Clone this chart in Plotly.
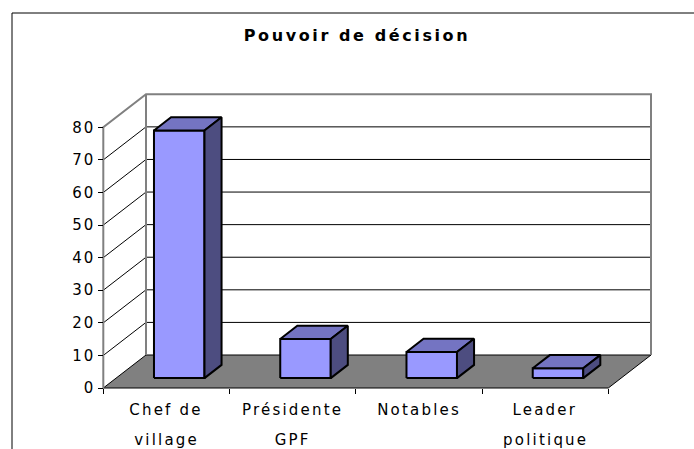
import plotly.graph_objects as go

# ---------------- data ----------------
categories = ["Chef de\nvillage", "Présidente\nGPF", "Notables", "Leader\npolitique"]
values = [76, 12, 8, 3]
y_tick_values = [0, 10, 20, 30, 40, 50, 60, 70, 80]
y_tick_labels = [str(v) for v in y_tick_values]
title_text = "Pouvoir de décision"

# ---------------- geometry / style constants ----------------
W, H = 694, 449
ORIGIN_X, ORIGIN_Y = 103.3, 388.0      # pixel position of (category 0, value 0) on the front floor edge
CAT_PX, UNIT_PX = 126.25, 3.259        # pixels per category, pixels per value unit
DEPTH_PX_X, DEPTH_PX_Y = 42.7, 33.0    # oblique depth offset of the floor (pixels)
dxu = DEPTH_PX_X / CAT_PX
dyu = DEPTH_PX_Y / UNIT_PX
BAR_W = 0.4
Z0, Z1 = 0.3, 0.7
FONT = "DejaVu Sans"
FRONT, TOP, SIDE = "#9999FF", "#7474C2", "#4D4D80"
EDGE_GRAY = "#808080"
CLEAR = "rgba(0,0,0,0)"

n = len(categories)
ytop = y_tick_values[-1]
x_range = [-ORIGIN_X / CAT_PX, (W - ORIGIN_X) / CAT_PX]
y_range = [-(H - ORIGIN_Y) / UNIT_PX, ORIGIN_Y / UNIT_PX]


def P(x, y, z=0.0):
    """oblique projection: z = 0 front of the floor, z = 1 back wall"""
    return (x + z * dxu, y + z * dyu)


fig = go.Figure()


def add_poly(pts, fill, color, width):
    xs = [p[0] for p in pts] + [pts[0][0]]
    ys = [p[1] for p in pts] + [pts[0][1]]
    fig.add_trace(go.Scatter(x=xs, y=ys, mode="lines", fill="toself", fillcolor=fill,
                             line=dict(color=color, width=width),
                             hoverinfo="skip", showlegend=False))


def add_path(segments, color, width):
    xs, ys = [], []
    for seg in segments:
        for p in seg:
            xs.append(p[0])
            ys.append(p[1])
        xs.append(None)
        ys.append(None)
    fig.add_trace(go.Scatter(x=xs, y=ys, mode="lines", line=dict(color=color, width=width),
                             hoverinfo="skip", showlegend=False))


# walls
add_poly([P(0, 0, 1), P(n, 0, 1), P(n, ytop, 1), P(0, ytop, 1)], "white", CLEAR, 0)
add_poly([P(0, 0, 0), P(0, 0, 1), P(0, ytop, 1), P(0, ytop, 0)], "white", CLEAR, 0)
# gridlines on side and back walls
add_path([[P(0, v, 0), P(0, v, 1), P(n, v, 1)] for v in y_tick_values[1:-1]], "black", 1)
# floor
add_poly([P(0, 0, 0), P(n, 0, 0), P(n, 0, 1), P(0, 0, 1)], "#808080", "black", 1)
# wall edges
add_path([[P(0, 0, 0), P(0, ytop, 0), P(0, ytop, 1), P(n, ytop, 1), P(n, 0, 1)],
          [P(0, 0, 1), P(0, ytop, 1)]], EDGE_GRAY, 2)

# bars
for i, v in enumerate(values):
    x0 = i + (1 - BAR_W) / 2
    x1 = x0 + BAR_W
    add_poly([P(x0, 0, Z0), P(x1, 0, Z0), P(x1, v, Z0), P(x0, v, Z0)], FRONT, "black", 2)
    add_poly([P(x0, v, Z0), P(x1, v, Z0), P(x1, v, Z1), P(x0, v, Z1)], TOP, "black", 2)
    add_poly([P(x1, 0, Z0), P(x1, 0, Z1), P(x1, v, Z1), P(x1, v, Z0)], SIDE, "black", 2)

# category labels (two lines with wide spacing)
annotations = []
for i, label in enumerate(categories):
    for j, line in enumerate(label.split("\n")):
        annotations.append(dict(x=i + 0.5, y=0, xref="x", yref="y", text=line,
                                showarrow=False, xanchor="center", yanchor="middle",
                                yshift=-(22.3 + 29.3 * j),
                                font=dict(family=FONT, size=15, color="black")))

fig.update_layout(
    width=W, height=H,
    margin=dict(l=0, r=0, t=0, b=0),
    template="none",
    paper_bgcolor="white", plot_bgcolor="white",
    showlegend=False,
    title=dict(text=title_text, x=357 / W, y=1 - 35 / H, xanchor="center", yanchor="middle",
               font=dict(family=FONT, size=16, color="black", weight="bold")),
    xaxis=dict(range=x_range, anchor="free", position=(H - ORIGIN_Y) / H,
               tickmode="array", tickvals=list(range(n + 1)), ticks="outside", ticklen=5,
               tickcolor="black", tickwidth=1, showticklabels=False,
               showgrid=False, zeroline=False, showline=False, automargin=False, fixedrange=True),
    yaxis=dict(range=y_range, anchor="free", position=ORIGIN_X / W,
               tickmode="array", tickvals=y_tick_values, ticktext=y_tick_labels,
               ticks="outside", ticklen=5, tickcolor="black", tickwidth=1,
               tickfont=dict(family=FONT, size=15, color="black"),
               showgrid=False, zeroline=False, showline=False, automargin=False, fixedrange=True),
    annotations=annotations,
    shapes=[dict(type="rect", xref="paper", yref="paper", x0=12 / W, x1=1.05,
                 y0=-0.05, y1=1 - 13 / H, line=dict(color="black", width=1))],
)

css = ("body{margin:0;padding:0;overflow:hidden}"
       ".main-svg .gtitle{letter-spacing:2.6px}"
       ".main-svg .annotation-text{letter-spacing:2.2px}"
       ".main-svg .ytick text{letter-spacing:2px}")
post = "var s=document.createElement('style');s.textContent='" + css + "';document.head.appendChild(s);"

fig.write_html("out.html", config={"displayModeBar": False}, post_script=post)
